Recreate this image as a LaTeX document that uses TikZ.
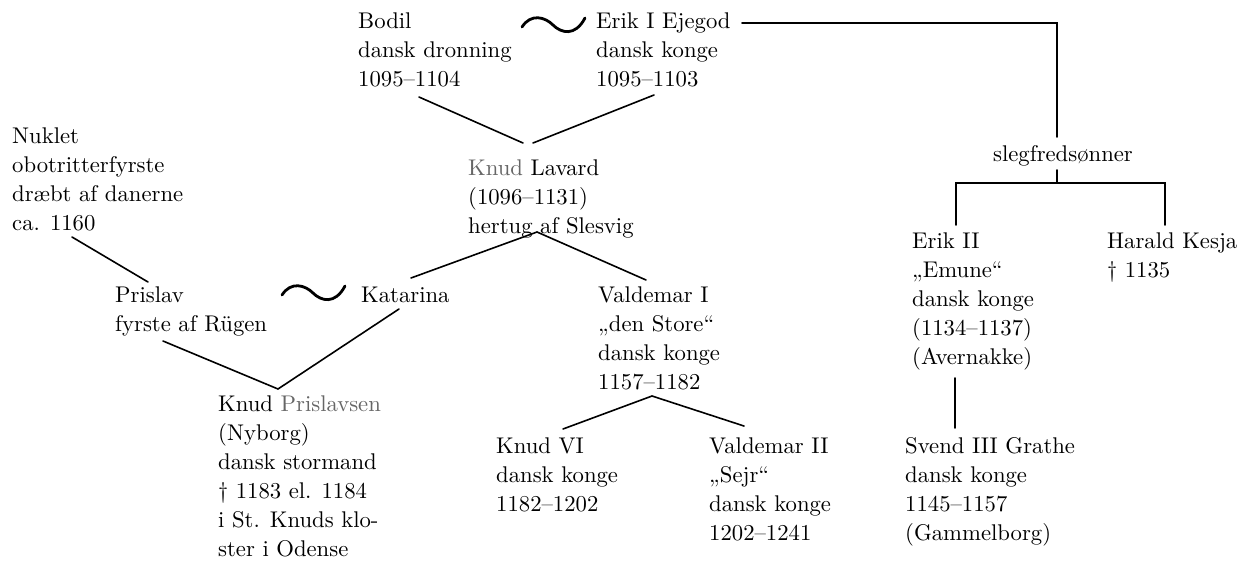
\documentclass[tikz,border=0pt]{standalone}
\usepackage{array}
\usepackage{graphicx}
\begin{document}
\newcommand{\blk}[1]{\scalebox{2.27}{\fontsize{10}{12.78}\selectfont\begin{tabular}[t]{@{}l@{}}#1\end{tabular}}}
\begin{tikzpicture}[x=1pt,y=-1pt,
  person/.style={anchor=base west, inner sep=0pt},
  conn/.style={line width=1.6pt, line cap=round},
  tildeline/.style={line width=2.8pt, line cap=round}]
\useasboundingbox (0,0) rectangle (1243,563);
% persons
\node[person] (bodil) at (358,28) {\blk{Bodil\\dansk dronning\\1095--1104}};
\node[person] (erik1) at (596,28) {\blk{Erik I Ejegod\\dansk konge\\1095--1103}};
\node[person] (nuklet) at (12,143) {\blk{Nuklet\\obotritterfyrste\\dræbt af danerne\\ca. 1160}};
\node[person] (knudlav) at (468,175) {\blk{\textcolor{black!60}{Knud} Lavard\\(1096--1131)\\hertug af Slesvig}};
\node[person, anchor=base] (slegfred) at (1063,161) {\blk{slegfredsønner}};
\node[person] (erik2) at (912,248) {\blk{Erik II\\„Emune“\\dansk konge\\(1134--1137)\\(Avernakke)}};
\node[person] (harald) at (1107,248) {\blk{Harald Kesja\\† 1135}};
\node[person] (prislav) at (115,302) {\blk{Prislav\\fyrste af Rügen}};
\node[person] (katarina) at (361,302) {\blk{Katarina}};
\node[person] (valdemar1) at (598,302) {\blk{Valdemar I\\„den Store“\\dansk konge\\1157--1182}};
\node[person] (knudpris) at (218,411) {\blk{Knud \textcolor{black!60}{Prislavsen}\\(Nyborg)\\dansk stormand\\† 1183 el. 1184\\i St. Knuds klo-\\ster i Odense}};
\node[person] (knud6) at (496,453) {\blk{Knud VI\\dansk konge\\1182--1202}};
\node[person] (valdemar2) at (709,453) {\blk{Valdemar II\\„Sejr“\\dansk konge\\1202--1241}};
\node[person] (svend) at (905,453) {\blk{Svend III Grathe\\dansk konge\\1145--1157\\(Gammelborg)}};
% joints
\coordinate (bodilout) at (419,97);
\coordinate (erik1out) at (654,95);
\coordinate (klinL) at (523,143);
\coordinate (klinR) at (533,143);
\coordinate (erik1line) at (742,23);
\coordinate (corner1) at (1057,23);
\coordinate (sfin) at (1057,137);
\coordinate (sfout) at (1057,170);
\coordinate (sfbar) at (1057,183);
\coordinate (barL) at (956,183);
\coordinate (barR) at (1165,183);
\coordinate (erik2in) at (956,225);
\coordinate (haraldin) at (1165,225);
\coordinate (erik2out) at (955,378);
\coordinate (svendin) at (955,428);
\coordinate (klapex) at (537,232);
\coordinate (katin) at (411,278);
\coordinate (v1in) at (646,280);
\coordinate (nukout) at (72,237);
\coordinate (prisin) at (148,282);
\coordinate (prisout) at (163,341);
\coordinate (kpapex) at (278,389);
\coordinate (katout) at (399,309);
\coordinate (v1apex) at (652,396);
\coordinate (k6in) at (563,429);
\coordinate (v2in) at (744,426);
% connectors
\draw[conn] (bodilout) -- (klinL);
\draw[conn] (erik1out) -- (klinR);
\draw[conn] (erik1line) -- (corner1) -- (sfin);
\draw[conn] (sfout) -- (sfbar);
\draw[conn] (erik2in) -- (barL) -- (barR) -- (haraldin);
\draw[conn] (erik2out) -- (svendin);
\draw[conn] (katin) -- (klapex) -- (v1in);
\draw[conn] (nukout) -- (prisin);
\draw[conn] (prisout) -- (kpapex) -- (katout);
\draw[conn] (k6in) -- (v1apex) -- (v2in);
% marriage tildes
\draw[tildeline, shift={(553,25)}] (-31,2) .. controls (-22,-12) and (-8,-8) .. (0,0) .. controls (8,8) and (22,12) .. (32,-7);
\draw[tildeline, shift={(313,293)}] (-31,2) .. controls (-22,-12) and (-8,-8) .. (0,0) .. controls (8,8) and (22,12) .. (32,-7);
\end{tikzpicture}
\end{document}
